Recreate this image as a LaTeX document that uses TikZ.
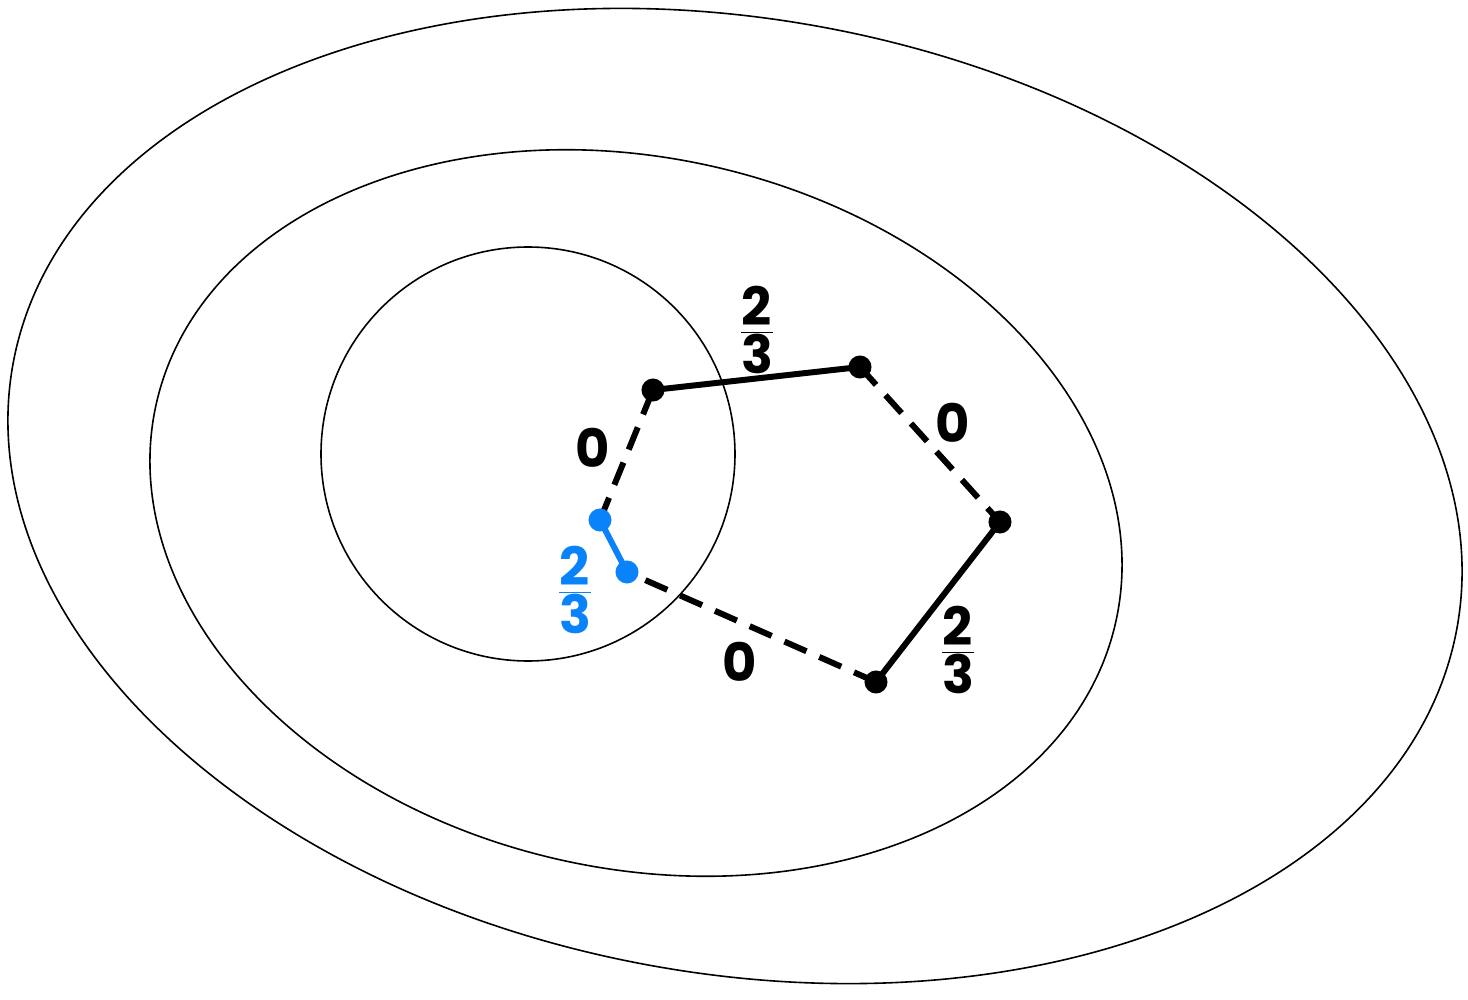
\documentclass[tikz,border=0pt]{standalone}
\usepackage{fontspec}
\setmainfont{Poppins}
\begin{document}
\begin{tikzpicture}[x=0.01cm,y=-0.01cm,
  ring/.style={line width=0.016cm},
  edge/.style={line width=0.06cm},
  dedge/.style={line width=0.06cm,dash pattern=on 0.24cm off 0.14cm},
  dot/.style={circle,fill=#1,inner sep=0pt,minimum size=0.23cm},
  lab/.style={font=\fontsize{15}{17}\selectfont\bfseries,text=#1}]
\definecolor{bl}{RGB}{10,130,250}
\useasboundingbox (0,0) rectangle (1468,1000);
\draw[ring,rotate around={-10.4:(735,496)}] (735,496) ellipse [x radius=734,y radius=477];
\draw[ring,rotate around={-13:(636,513)}] (636,513) ellipse [x radius=492,y radius=355];
\draw[ring] (528,454) circle [radius=207];
\coordinate (A) at (653,390);
\coordinate (B) at (860,367);
\coordinate (C) at (1000,522);
\coordinate (D) at (876,682);
\coordinate (E) at (627,572);
\coordinate (F) at (600,520);
\draw[edge] (A) -- (B);
\draw[dedge] (B) -- (C);
\draw[edge] (C) -- (D);
\draw[dedge] (D) -- (E);
\draw[dedge] (F) -- (A);
\draw[edge,bl] (E) -- (F);
\node[dot=black] (nA) at (A) {};
\node[dot=black] (nB) at (B) {};
\node[dot=black] (nC) at (C) {};
\node[dot=black] (nD) at (D) {};
\node[dot=bl] (nE) at (E) {};
\node[dot=bl] (nF) at (F) {};
\node[lab=black] (l1) at (757,330) {$\frac{\mbox{\bfseries 2}}{\mbox{\bfseries 3}}$};
\node[lab=black] (l2) at (953,423) {0};
\node[lab=black] (l3) at (958,650) {$\frac{\mbox{\bfseries 2}}{\mbox{\bfseries 3}}$};
\node[lab=black] (l4) at (740,662) {0};
\node[lab=black] (l5) at (593,448) {0};
\node[lab=bl] (l6) at (575,590) {$\frac{\mbox{\bfseries 2}}{\mbox{\bfseries 3}}$};
\end{tikzpicture}
\end{document}
